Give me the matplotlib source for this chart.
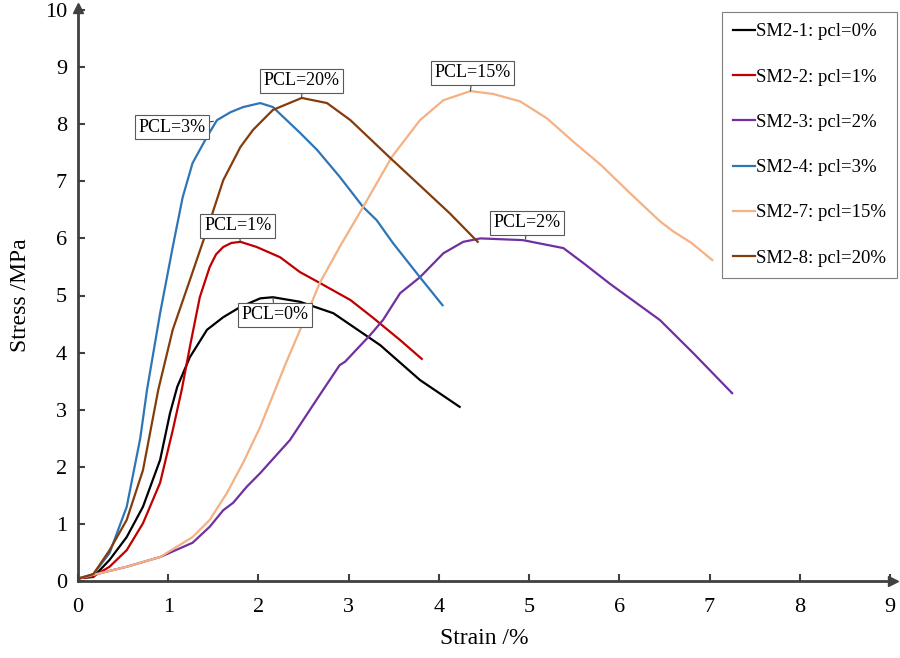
import matplotlib
matplotlib.use("Agg")
import matplotlib.pyplot as plt

plt.rcParams['font.family'] = ['Liberation Serif', 'DejaVu Serif']

# ---- data ----
x_sm1 = [0.02, 0.17, 0.35, 0.54, 0.72, 0.91, 1.02, 1.10, 1.24, 1.43, 1.61, 1.80, 2.02, 2.16, 2.46, 2.83, 3.35, 3.79, 4.23]
y_sm1 = [0.05, 0.07, 0.37, 0.77, 1.30, 2.12, 2.94, 3.40, 3.92, 4.40, 4.62, 4.80, 4.95, 4.97, 4.89, 4.69, 4.13, 3.52, 3.05]

x_sm2 = [0.02, 0.17, 0.35, 0.54, 0.72, 0.91, 1.05, 1.15, 1.24, 1.35, 1.46, 1.53, 1.61, 1.70, 1.80, 1.98, 2.24, 2.46, 2.68, 3.02, 3.27, 3.57, 3.81]
y_sm2 = [0.05, 0.08, 0.25, 0.54, 1.01, 1.72, 2.64, 3.35, 4.10, 4.97, 5.50, 5.72, 5.85, 5.92, 5.94, 5.85, 5.67, 5.41, 5.22, 4.92, 4.61, 4.22, 3.89]

x_sm3 = [0.02, 0.54, 0.91, 1.27, 1.46, 1.61, 1.72, 1.87, 2.02, 2.35, 2.68, 2.90, 2.96, 3.24, 3.38, 3.57, 3.79, 4.05, 4.27, 4.46, 4.93, 5.38, 5.60, 5.90, 6.45, 6.82, 7.25]
y_sm3 = [0.05, 0.25, 0.42, 0.67, 0.95, 1.24, 1.37, 1.65, 1.89, 2.47, 3.26, 3.78, 3.84, 4.31, 4.57, 5.04, 5.32, 5.74, 5.94, 6.00, 5.97, 5.83, 5.57, 5.20, 4.57, 3.99, 3.29]

x_sm4 = [0.02, 0.17, 0.35, 0.54, 0.69, 0.765, 0.91, 1.05, 1.16, 1.27, 1.43, 1.54, 1.69, 1.83, 2.02, 2.16, 2.46, 2.65, 2.90, 3.16, 3.31, 3.49, 3.79, 4.04]
y_sm4 = [0.05, 0.12, 0.49, 1.30, 2.50, 3.35, 4.69, 5.85, 6.72, 7.32, 7.78, 8.07, 8.21, 8.30, 8.37, 8.30, 7.85, 7.55, 7.08, 6.55, 6.32, 5.92, 5.32, 4.83]

x_sm7 = [0.02, 0.54, 0.91, 1.27, 1.46, 1.65, 1.83, 2.02, 2.30, 2.57, 2.68, 2.90, 3.16, 3.48, 3.79, 4.05, 4.35, 4.60, 4.90, 5.20, 5.50, 5.80, 6.10, 6.45, 6.60, 6.80, 7.03]
y_sm7 = [0.05, 0.25, 0.42, 0.77, 1.07, 1.54, 2.07, 2.70, 3.80, 4.80, 5.22, 5.85, 6.55, 7.43, 8.07, 8.42, 8.58, 8.53, 8.40, 8.10, 7.68, 7.28, 6.82, 6.30, 6.12, 5.92, 5.62]

x_sm8 = [0.02, 0.17, 0.35, 0.54, 0.72, 0.89, 1.05, 1.24, 1.43, 1.61, 1.80, 1.94, 2.16, 2.48, 2.76, 3.02, 3.46, 3.76, 4.12, 4.43]
y_sm8 = [0.05, 0.12, 0.54, 1.07, 1.94, 3.35, 4.40, 5.27, 6.15, 7.02, 7.60, 7.90, 8.25, 8.46, 8.37, 8.07, 7.41, 6.97, 6.44, 5.94]

labels = ["SM2-1: pcl=0%", "SM2-2: pcl=1%", "SM2-3: pcl=2%",
          "SM2-4: pcl=3%", "SM2-7: pcl=15%", "SM2-8: pcl=20%"]
colors = ["#000000", "#C00000", "#7030A0", "#2E75B6", "#F4B183", "#843C0C"]

callout_text = ["PCL=0%", "PCL=1%", "PCL=2%", "PCL=3%", "PCL=15%", "PCL=20%"]
callout_pt = [(2.16, 4.97), (1.80, 5.94), (4.96, 5.99), (1.50, 8.05), (4.35, 8.58), (2.48, 8.46)]
callout_box = [(2.18, 4.66), (1.77, 6.22), (4.98, 6.27), (1.04, 7.95), (4.37, 8.90), (2.48, 8.76)]

xticks = list(range(0, 10))
yticks = list(range(0, 11))

# ---- figure ----
fig = plt.figure(figsize=(9, 6.58), dpi=100)
ax = fig.add_axes([78/900, 1-581/658, (890-78)/900, (581-10)/658])

series = [(x_sm1, y_sm1), (x_sm2, y_sm2), (x_sm3, y_sm3),
          (x_sm4, y_sm4), (x_sm7, y_sm7), (x_sm8, y_sm8)]
for (xs, ys), c, lab in zip(series, colors, labels):
    ax.plot(xs, ys, color=c, lw=1.6, label=lab, solid_joinstyle='round')

for t, p, b in zip(callout_text, callout_pt, callout_box):
    ax.annotate(t, xy=p, xytext=b, ha='center', va='center', fontsize=13,
                bbox=dict(boxstyle='square,pad=0.2', fc='white', ec='#595959', lw=0.8),
                arrowprops=dict(arrowstyle='-', color='#404040', lw=0.8,
                                shrinkA=0, shrinkB=0), zorder=5)

ax.set_xlim(0, 9)
ax.set_ylim(0, 10)
ax.set_xticks(xticks)
ax.set_yticks(yticks)
ax.tick_params(direction='in', length=5, width=1.5, color='#404040',
               labelsize=16, pad=12)
ax.tick_params(axis='y', pad=8)
for s in ['top', 'right']:
    ax.spines[s].set_visible(False)
for s in ['left', 'bottom']:
    ax.spines[s].set_color('#404040')
    ax.spines[s].set_linewidth(2)
ax.plot(1.004, 0, '>', transform=ax.transAxes, clip_on=False, ms=7, color='#404040')
ax.plot(0, 1.004, '^', transform=ax.transAxes, clip_on=False, ms=7, color='#404040')

ax.set_xlabel("Strain /%", fontsize=17, labelpad=8)
ax.set_ylabel("Stress /MPa", fontsize=17, labelpad=10)

leg = ax.legend(loc='upper right', bbox_to_anchor=(897/900, 1-12/658),
                bbox_transform=fig.transFigure, fontsize=13.5, frameon=True,
                fancybox=False, framealpha=1, edgecolor='#7f7f7f',
                handlelength=1.15, handletextpad=0.05, labelspacing=1.5,
                borderpad=0.6, borderaxespad=0)
leg.get_frame().set_linewidth(0.8)

fig.savefig("out.png", dpi=100)
